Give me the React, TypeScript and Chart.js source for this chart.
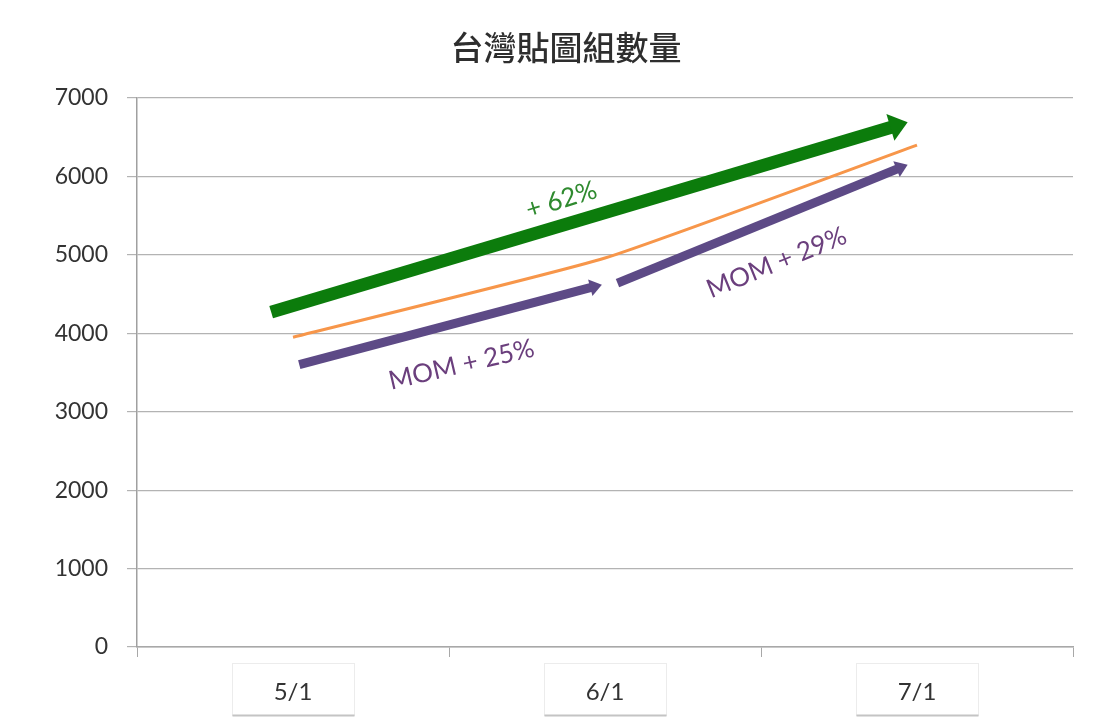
import React, { useEffect, useRef } from "react";
import { Chart, registerables } from "chart.js";

Chart.register(...registerables);

// ---- data ----
const chartTitle = "台灣貼圖組數量";
const categories = ["5/1", "6/1", "7/1"];
const stickerSetCounts = [3950, 4960, 6400];
const yMin = 0;
const yMax = 7000;
const yStep = 1000;

// annotation arrows, in data space: [categoryIndex, value]
const totalArrowFrom = [-0.07, 4270];
const totalArrowTo = [1.97, 6690];
const momMayArrowFrom = [0.02, 3600];
const momMayArrowTo = [0.99, 4620];
const momJunArrowFrom = [1.04, 4640];
const momJunArrowTo = [1.97, 6150];

// annotation texts and anchors (data space)
const growthTexts = ["+ 62%", "MOM + 25%", "MOM + 29%"];
const growthAnchors = [
  [0.86, 5700],
  [0.54, 3600],
  [1.55, 4900],
];

const GREEN = "#0c7c0c";
const PURPLE = "#5d4a86";
const LABEL_FONT = "Lato, 'Open Sans', sans-serif";

const titlePlugin = {
  id: "customTitle",
  afterDraw(chart: any) {
    const { ctx } = chart;
    ctx.save();
    ctx.font = "500 33px 'Noto Sans CJK TC', sans-serif";
    ctx.fillStyle = "#2e2e2e";
    ctx.textAlign = "center";
    ctx.textBaseline = "middle";
    ctx.fillText(chartTitle, 566, 47);
    ctx.restore();
  },
};

const arrowPlugin = {
  id: "arrows",
  afterDatasetsDraw(chart: any) {
    const { ctx, scales } = chart;
    const xs = scales.x;
    const ys = scales.y;
    const px = (p: number[]) => [xs.getPixelForValue(p[0]), ys.getPixelForValue(p[1])];

    const drawArrow = (from: number[], to: number[], color: string, width: number, headW: number, headL: number) => {
      const [x1, y1] = px(from);
      const [x2, y2] = px(to);
      const ang = Math.atan2(y2 - y1, x2 - x1);
      const bx = x2 - Math.cos(ang) * headL;
      const by = y2 - Math.sin(ang) * headL;
      ctx.save();
      ctx.strokeStyle = color;
      ctx.fillStyle = color;
      ctx.lineWidth = width;
      ctx.lineCap = "butt";
      ctx.beginPath();
      ctx.moveTo(x1, y1);
      ctx.lineTo(bx + Math.cos(ang) * 1, by + Math.sin(ang) * 1);
      ctx.stroke();
      const nx = -Math.sin(ang);
      const ny = Math.cos(ang);
      ctx.beginPath();
      ctx.moveTo(x2, y2);
      ctx.lineTo(bx + nx * headW / 2, by + ny * headW / 2);
      ctx.lineTo(bx - nx * headW / 2, by - ny * headW / 2);
      ctx.closePath();
      ctx.fill();
      ctx.restore();
      return ang;
    };

    const a0 = drawArrow(totalArrowFrom, totalArrowTo, GREEN, 13, 28, 18);
    const a1 = drawArrow(momMayArrowFrom, momMayArrowTo, PURPLE, 9, 17, 12);
    const a2 = drawArrow(momJunArrowFrom, momJunArrowTo, PURPLE, 9, 17, 12);

    const angles = [a0 - 0.01, a1 + 0.03, a2];
    const colors = ["#2f8a2f", "#6b3f7d", "#6b3f7d"];
    growthTexts.forEach((t, i) => {
      const [x, y] = px(growthAnchors[i]);
      ctx.save();
      ctx.translate(x, y);
      ctx.rotate(angles[i]);
      ctx.font = `26px ${LABEL_FONT}`;
      ctx.fillStyle = colors[i];
      ctx.textAlign = "center";
      ctx.textBaseline = "middle";
      ctx.fillText(t, 0, 0);
      ctx.restore();
    });
  },
};

const labelBoxPlugin = {
  id: "labelBoxes",
  afterDraw(chart: any) {
    const { ctx, scales, chartArea } = chart;
    const xs = scales.x;
    ctx.save();
    categories.forEach((_, i) => {
      const cx = xs.getPixelForTick(i);
      const left = Math.round(cx - 61) + 0.5;
      const top = chartArea.bottom + 16.5;
      const w = 122;
      const h = 52;
      ctx.strokeStyle = "#ececec";
      ctx.lineWidth = 1;
      ctx.strokeRect(left, top, w, h);
      ctx.strokeStyle = "#c4c4c4";
      ctx.lineWidth = 2;
      ctx.beginPath();
      ctx.moveTo(left, top + h);
      ctx.lineTo(left + w, top + h);
      ctx.stroke();
    });
    ctx.restore();
  },
};

export default function App() {
  const canvasRef = useRef<HTMLCanvasElement | null>(null);

  useEffect(() => {
    document.body.style.margin = "0";
    const canvas = canvasRef.current;
    if (!canvas) return;
    const chart = new Chart(canvas, {
      type: "line",
      data: {
        labels: categories,
        datasets: [
          {
            label: "貼圖組數量",
            data: stickerSetCounts,
            borderColor: "#f7964a",
            borderWidth: 3,
            pointRadius: 0,
            tension: 0.15,
            fill: false,
          },
        ],
      },
      options: {
        responsive: false,
        animation: false,
        layout: { padding: { left: 0, right: 36, top: 98, bottom: 0 } },
        plugins: {
          legend: { display: false },
          tooltip: { enabled: false },
          title: { display: false },
        },
        scales: {
          x: {
            offset: true,
            grid: {
              offset: true,
              drawOnChartArea: false,
              drawTicks: true,
              tickLength: 10,
              color: "#a8a8a8",
            },
            border: { color: "#a8a8a8", width: 1.5 },
            ticks: {
              color: "#333333",
              font: { family: LABEL_FONT, size: 24 },
              padding: 21,
              maxRotation: 0,
            },
            afterFit(scale: any) {
              scale.height = 70;
            },
          },
          y: {
            min: yMin,
            max: yMax,
            grid: { color: "#b3b3b3", tickLength: 10, lineWidth: 1.2 },
            border: { color: "#a0a0a0", width: 1.5 },
            ticks: {
              stepSize: yStep,
              color: "#333333",
              font: { family: LABEL_FONT, size: 23 },
              padding: 19,
              callback: (v: any) => String(v),
            },
            afterFit(scale: any) {
              scale.width = 137;
            },
          },
        },
      },
      plugins: [arrowPlugin, labelBoxPlugin, titlePlugin],
    });
    return () => chart.destroy();
  }, []);

  return (
    <div style={{ width: 1109, height: 717, background: "#ffffff" }}>
      <canvas ref={canvasRef} width={1109} height={717} style={{ display: "block" }} />
    </div>
  );
}
